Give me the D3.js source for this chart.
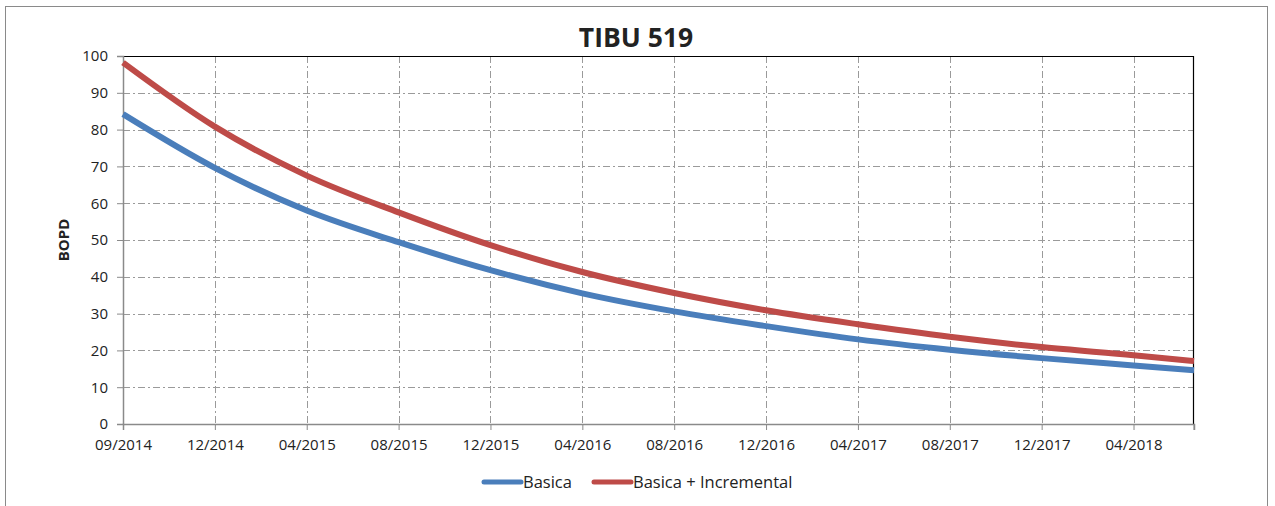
<!DOCTYPE html>
<html>
<head>
<meta charset="utf-8">
<script src="https://cdn.jsdelivr.net/npm/d3@7"></script>
<style>
  body { margin: 0; background: #fff; }
  text { font-family: "Open Sans", "Noto Sans", sans-serif; fill: #222; }
</style>
</head>
<body>
<div id="chart"></div>
<script>
// chart data
var dates = ["2014-09-01", "2014-12-30", "2015-04-29", "2015-08-27", "2015-12-25", "2016-04-23",
             "2016-08-21", "2016-12-19", "2017-04-18", "2017-08-16", "2017-12-14", "2018-04-13", "2018-07-01"];
var basica = [84.2, 69.6, 58.0, 49.4, 41.8, 35.5, 30.6, 26.6, 23.0, 20.2, 17.9, 15.9, 14.6];
var basicaIncremental = [98.2, 80.8, 67.5, 57.5, 48.6, 41.3, 35.6, 30.9, 27.1, 23.7, 20.9, 18.7, 17.1];
var seriesNames = ["Basica", "Basica + Incremental"];
var yTicks = [0, 10, 20, 30, 40, 50, 60, 70, 80, 90, 100];
var xTickDays = 120; // axis major unit, days

var svgWidth = 1275;
var svgHeight = 506;
var margin = { top: 56, right: 81, bottom: 82, left: 123 };
var width = svgWidth - margin.left - margin.right;
var height = svgHeight - margin.top - margin.bottom;

var parseDate = d3.timeParse("%Y-%m-%d");
var xDates = dates.map(parseDate);

var svg = d3.select("#chart").append("svg")
  .attr("width", svgWidth)
  .attr("height", svgHeight);

// outer chart frame
svg.append("rect")
  .attr("x", 5.5).attr("y", 6.5)
  .attr("width", 1262).attr("height", 520)
  .attr("fill", "#fff")
  .attr("stroke", "#8a8a8a");

var chartGroup = svg.append("g")
  .attr("transform", `translate(${margin.left}, ${margin.top})`);

var xScale = d3.scaleTime()
  .domain([xDates[0], xDates[xDates.length - 1]])
  .range([0, width]);

var yScale = d3.scaleLinear()
  .domain([0, 100])
  .range([height, 0]);

// tick dates every 120 days from the start
var xTicks = d3.timeDay.every(1).range(xDates[0], xDates[xDates.length - 1])
  .filter((d, i) => i % xTickDays === 0);

// grid lines
var grid = chartGroup.append("g").attr("stroke", "#9a9a9a").attr("stroke-width", 1)
  .attr("stroke-dasharray", "7,3,2,3");
grid.selectAll(".hg").data(yTicks.slice(1)).enter().append("line")
  .attr("x1", 0).attr("x2", width)
  .attr("y1", d => Math.round(yScale(d)) + 0.5)
  .attr("y2", d => Math.round(yScale(d)) + 0.5);
grid.selectAll(".vg").data(xTicks.slice(1)).enter().append("line")
  .attr("y1", 0).attr("y2", height)
  .attr("x1", d => Math.round(xScale(d)) + 0.5)
  .attr("x2", d => Math.round(xScale(d)) + 0.5);

// plot area border (top / right black)
chartGroup.append("path")
  .attr("d", `M0.5,0.5H${width - 0.5}V${height}`)
  .attr("fill", "none")
  .attr("stroke", "#000")
  .attr("stroke-width", 1.2);

// axes
var leftAxis = d3.axisLeft(yScale).tickValues(yTicks).tickSize(6).tickPadding(9);
var bottomAxis = d3.axisBottom(xScale).tickValues(xTicks)
  .tickFormat(d3.timeFormat("%m/%Y")).tickSize(6).tickPadding(9);

var yAxis = chartGroup.append("g").call(leftAxis);
var xAxis = chartGroup.append("g")
  .attr("transform", `translate(0, ${height})`)
  .call(bottomAxis);

[xAxis, yAxis].forEach(function(ax) {
  ax.select(".domain").attr("stroke", "#8a8a8a").attr("stroke-width", 1.5);
  ax.selectAll(".tick line").attr("stroke", "#8a8a8a");
  ax.selectAll("text").style("font-size", "15px").attr("fill", "#333");
});
// end tick at axis end
xAxis.append("line").attr("x1", width).attr("x2", width).attr("y1", 0).attr("y2", 6)
  .attr("stroke", "#8a8a8a");

// lines
var colors = ["#4a7ebb", "#be4b48"];
var line = d3.line()
  .x((d, i) => xScale(xDates[i]))
  .y(d => yScale(d))
  .curve(d3.curveMonotoneX);

[basica, basicaIncremental].forEach(function(vals, i) {
  chartGroup.append("path")
    .datum(vals)
    .attr("d", line)
    .attr("fill", "none")
    .attr("stroke", colors[i])
    .attr("stroke-width", 6)
    .attr("stroke-linecap", "butt");
});

// title
svg.append("text")
  .attr("x", 636).attr("y", 47)
  .attr("text-anchor", "middle")
  .style("font-size", "26.5px")
  .style("font-weight", "bold")
  .attr("fill", "#000")
  .text("TIBU 519");

// y axis label
svg.append("text")
  .attr("transform", `translate(69, ${margin.top + height / 2}) rotate(-90)`)
  .attr("text-anchor", "middle")
  .style("font-size", "15px")
  .style("font-weight", "bold")
  .attr("fill", "#000")
  .text("BOPD");

// legend
var legend = svg.append("g").attr("transform", "translate(484, 482)");
var legendX = [0, 110];
seriesNames.forEach(function(name, i) {
  var g = legend.append("g").attr("transform", `translate(${legendX[i]}, 0)`);
  g.append("line").attr("x1", 0).attr("x2", 37).attr("y1", 0).attr("y2", 0)
    .attr("stroke", colors[i]).attr("stroke-width", 5).attr("stroke-linecap", "round");
  g.append("text").attr("x", 39).attr("y", 6)
    .style("font-size", "16.5px").attr("fill", "#333").text(name);
});
</script>
</body>
</html>
